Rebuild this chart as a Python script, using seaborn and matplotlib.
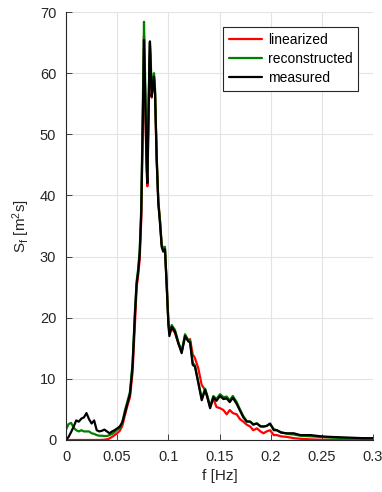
import numpy as np
import pandas as pd
import matplotlib
matplotlib.use("Agg")
import matplotlib.pyplot as plt
import seaborn as sns

# ---- data ----
freq = [0, 0.0025, 0.005, 0.0075, 0.01, 0.0125, 0.015, 0.0175, 0.02, 0.0225,
        0.025, 0.0275, 0.03, 0.0325, 0.035, 0.0375, 0.04, 0.0425, 0.045, 0.0475,
        0.05, 0.0525, 0.055, 0.0575, 0.06, 0.0625, 0.065, 0.0675,
        0.069, 0.0705, 0.072, 0.0735, 0.075, 0.0762, 0.0772, 0.078, 0.0788, 0.0795,
        0.0805, 0.0815, 0.082, 0.083, 0.0837, 0.085, 0.086, 0.087, 0.0886, 0.0902,
        0.0918, 0.0935, 0.095, 0.0967, 0.0984, 0.1, 0.101,
        0.1033, 0.1065, 0.1098, 0.113, 0.1163, 0.1196, 0.1212, 0.1238, 0.126, 0.1293,
        0.1326, 0.1359, 0.138, 0.1408, 0.144, 0.147, 0.1505, 0.1538, 0.157, 0.16,
        0.163, 0.1668, 0.17, 0.1733, 0.1766, 0.18, 0.183, 0.1866, 0.19, 0.193,
        0.196, 0.1994, 0.203, 0.206, 0.21, 0.216, 0.2225, 0.229, 0.239, 0.249,
        0.259, 0.275, 0.29, 0.3]

linearized = [0, 0, 0, 0, 0, 0, 0, 0, 0, 0,
              0, 0, 0, 0, 0.01, 0.05, 0.1, 0.25, 0.5, 0.8,
              1.1, 1.5, 2.3, 4.0, 5.6, 7.0, 11.0, 19.5,
              25.0, 27.0, 29.5, 36, 51, 66, 57, 50, 44, 41.5,
              51, 61, 64.5, 60, 56, 58, 59.0, 56.5, 46, 39,
              36, 31.8, 31, 31, 25.5, 19.5, 17.5,
              18.3, 17.5, 15.8, 14.5, 16.8, 16.3, 16.5, 14.0, 13.4, 11.7,
              9.0, 8.2, 7.0, 5.4, 6.8, 5.4, 5.2, 4.9, 4.2, 4.9,
              4.4, 4.2, 3.4, 3.0, 2.5, 2.2, 1.6, 1.9, 1.4, 1.1,
              1.4, 1.6, 0.8, 0.8, 0.6, 0.5, 0.3, 0.2, 0.1, 0.05,
              0.03, 0.02, 0.02, 0.02]

reconstructed = [1.7, 2.6, 2.8, 2.0, 1.6, 1.4, 1.6, 1.4, 1.4, 1.4,
                 1.1, 1.0, 0.8, 0.7, 0.7, 0.65, 0.65, 0.8, 1.0, 1.3,
                 1.7, 1.9, 2.8, 4.8, 6.3, 7.9, 12.5, 21.5,
                 26.0, 28.0, 31.0, 38, 54, 68.4, 60, 53, 47, 44,
                 53, 62, 65.0, 61, 57.5, 59, 60.0, 57.5, 46.5, 39,
                 36, 32, 31.3, 31.6, 25.5, 19.5, 17.5,
                 18.8, 18.0, 16.0, 14.5, 17.3, 16.3, 16.2, 12.6, 12.2, 9.5,
                 6.8, 8.4, 7.3, 5.5, 7.2, 6.7, 7.5, 7.0, 7.1, 6.5,
                 7.2, 6.2, 5.0, 3.9, 3.1, 3.0, 2.6, 2.7, 2.3, 2.2,
                 2.3, 2.6, 1.8, 1.6, 1.3, 1.0, 0.9, 0.7, 0.6, 0.5,
                 0.4, 0.3, 0.25, 0.2]

measured = [0.0, 0.5, 1.3, 2.2, 3.2, 3.0, 3.5, 3.7, 4.4, 3.4,
            2.7, 3.2, 1.6, 1.4, 1.5, 1.7, 1.4, 1.1, 1.4, 1.6,
            1.9, 2.2, 2.9, 4.4, 6.0, 7.5, 12.0, 21.0,
            25.5, 27.5, 30.5, 37, 52, 65.4, 58, 51, 45, 42,
            52, 62, 65.2, 60, 56.2, 58, 59.4, 56.7, 45.8, 38.7,
            35.5, 31.6, 30.8, 31.2, 25.1, 19.0, 17.0,
            18.5, 17.7, 15.8, 14.2, 17.0, 16.1, 16.0, 12.3, 12.0, 9.3,
            6.5, 8.2, 7.1, 5.2, 7.0, 6.4, 7.2, 6.7, 6.8, 6.2,
            6.9, 5.9, 4.8, 3.7, 3.0, 3.0, 2.5, 2.7, 2.2, 2.2,
            2.3, 2.7, 1.6, 1.6, 1.2, 1.1, 1.1, 0.8, 0.8, 0.6,
            0.5, 0.4, 0.3, 0.3]

series_names = ["linearized", "reconstructed", "measured"]
series_colors = ["#ff0000", "#008000", "#000000"]
x_ticks = [0, 0.05, 0.1, 0.15, 0.2, 0.25, 0.3]
x_tick_labels = ["0", "0.05", "0.1", "0.15", "0.2", "0.25", "0.3"]
y_ticks = [0, 10, 20, 30, 40, 50, 60, 70]

df = pd.concat([
    pd.DataFrame({"f": freq, "S": vals, "series": name})
    for name, vals in zip(series_names, [linearized, reconstructed, measured])
], ignore_index=True)

# ---- style ----
sns.set_theme(style="white")
plt.rcParams["font.family"] = ["Liberation Sans", "DejaVu Sans"]
plt.rcParams["mathtext.fontset"] = "custom"
plt.rcParams["mathtext.rm"] = "Liberation Sans"
plt.rcParams["mathtext.it"] = "Liberation Sans"

fig = plt.figure(figsize=(3.82, 4.92), dpi=100)
ax = fig.add_axes([0.1728, 0.1057, 0.8037, 0.8699])

sns.lineplot(data=df, x="f", y="S", hue="series", hue_order=series_names,
             palette=dict(zip(series_names, series_colors)), estimator=None,
             sort=False, linewidth=1.6, ax=ax, legend=True)

ax.set_xlim(0, 0.3)
ax.set_ylim(0, 70)
ax.set_xticks(x_ticks)
ax.set_xticklabels(x_tick_labels)
ax.set_yticks(y_ticks)
ax.grid(True, color="#e3e3e3", linewidth=0.8)
ax.set_axisbelow(True)

axcol = "#262626"
for side in ["top", "right"]:
    ax.spines[side].set_visible(False)
for side in ["left", "bottom"]:
    ax.spines[side].set_color(axcol)
    ax.spines[side].set_linewidth(0.8)
ax.tick_params(axis="both", direction="in", length=4, width=0.6, color=axcol,
               labelcolor=axcol, labelsize=10.5, pad=7, left=True, bottom=True)

ax.set_xlabel("f [Hz]", fontsize=11, color=axcol, labelpad=4)
ax.set_ylabel(r"S$_\mathregular{f}$ [m$^\mathregular{2}$s]", fontsize=11,
              color=axcol, labelpad=6)

leg = ax.legend(loc="upper right", bbox_to_anchor=(0.952, 0.965),
                frameon=True, fancybox=False, fontsize=10,
                handlelength=2.4, handletextpad=0.45, borderpad=0.4,
                labelspacing=0.38, borderaxespad=0)
leg.get_frame().set_edgecolor("#262626")
leg.get_frame().set_linewidth(0.8)
leg.get_frame().set_alpha(1)
for t in leg.get_texts():
    t.set_color("#000000")

fig.savefig("out.png", dpi=100)
